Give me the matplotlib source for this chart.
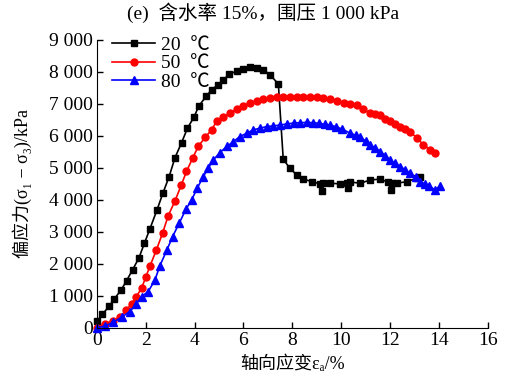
import matplotlib
matplotlib.use('Agg')
import matplotlib.pyplot as plt
from matplotlib.ticker import FuncFormatter

plt.rcParams['font.family'] = ['Liberation Serif', 'Noto Sans CJK SC', 'DejaVu Serif']
plt.rcParams['axes.unicode_minus'] = False

# 20 C
eps_20 = [0, 0.23, 0.5, 0.71, 1.0, 1.22, 1.46, 1.72, 1.95, 2.17, 2.46, 2.7, 2.96, 3.2, 3.47,
          3.71, 3.97, 4.18, 4.47, 4.7, 4.95, 5.18, 5.42, 5.72, 6.0, 6.27, 6.54, 6.82, 7.09,
          7.43, 7.63, 7.9, 8.18, 8.45, 8.8, 9.14, 9.2, 9.25, 9.55, 9.96, 10.25, 10.3, 10.35,
          10.78, 11.19, 11.6, 11.9, 12.05, 12.1, 12.28, 12.7, 13.1, 13.24]
q_20 = [200, 430, 670, 900, 1190, 1480, 1810, 2180, 2650, 3090, 3680, 4200, 4730, 5320, 5790,
        6240, 6580, 6940, 7230, 7440, 7590, 7750, 7930, 8020, 8080, 8140, 8110, 8060, 7910,
        7620, 5270, 4990, 4780, 4650, 4570, 4500, 4290, 4520, 4520, 4500, 4530, 4370, 4560,
        4520, 4620, 4650, 4560, 4300, 4520, 4520, 4570, 4680, 4700]

# 50 C
eps_50 = [0, 0.33, 0.67, 0.94, 1.21, 1.42, 1.62, 1.83, 2.0, 2.17, 2.44, 2.69, 2.92, 3.2, 3.45,
          3.67, 3.92, 4.15, 4.43, 4.7, 4.9, 5.18, 5.45, 5.72, 6.0, 6.27, 6.54, 6.82, 7.09,
          7.36, 7.64, 7.9, 8.18, 8.45, 8.72, 9.0, 9.27, 9.55, 9.82, 10.1, 10.37, 10.64, 10.9,
          11.19, 11.4, 11.6, 11.8, 12.0, 12.2, 12.42, 12.62, 12.83, 13.1, 13.37, 13.65, 13.85]
q_50 = [10, 125, 230, 330, 560, 750, 980, 1240, 1580, 1920, 2440, 2960, 3500, 3970, 4450,
        4890, 5300, 5670, 5950, 6190, 6450, 6580, 6710, 6830, 6940, 7040, 7090, 7160, 7180,
        7200, 7210, 7220, 7220, 7210, 7210, 7200, 7180, 7150, 7100, 7040, 7000, 6960, 6830,
        6710, 6680, 6640, 6540, 6450, 6370, 6290, 6210, 6130, 5930, 5720, 5560, 5480]

# 80 C
eps_80 = [0, 0.33, 0.67, 1.01, 1.35, 1.62, 1.83, 2.1, 2.38, 2.58, 2.86, 3.1, 3.37, 3.65, 3.88,
          4.12, 4.36, 4.56, 4.77, 5.04, 5.32, 5.59, 5.86, 6.13, 6.41, 6.68, 6.95, 7.23, 7.5,
          7.77, 8.05, 8.3, 8.6, 8.85, 9.1, 9.35, 9.55, 9.8, 10.05, 10.37, 10.6, 10.78, 11.0,
          11.19, 11.4, 11.6, 11.8, 12.0, 12.2, 12.42, 12.62, 12.83, 13.05, 13.24, 13.42, 13.58,
          13.85, 14.06]
q_80 = [0, 60, 170, 330, 510, 750, 980, 1130, 1500, 1940, 2420, 2850, 3270, 3710, 4000,
        4380, 4730, 4990, 5250, 5480, 5670, 5820, 5980, 6080, 6190, 6240, 6290, 6310, 6340,
        6370, 6400, 6410, 6420, 6410, 6390, 6360, 6340, 6280, 6210, 6080, 6020, 5960, 5840,
        5720, 5620, 5510, 5380, 5250, 5150, 5040, 4940, 4830, 4700, 4570, 4500, 4440,
        4310, 4440]

fig = plt.figure(figsize=(5.07, 3.76), dpi=100)
ax = fig.add_axes([0.191, 0.128, 0.771, 0.766])

ax.plot(eps_20, q_20, 'k-', marker='s', ms=4.5, lw=1.2, label='20  ℃', clip_on=False)
ax.plot(eps_50, q_50, 'r-', marker='o', ms=5, lw=1.2, label='50  ℃', clip_on=False)
ax.plot(eps_80, q_80, 'b-', marker='^', ms=5.5, lw=1.2, label='80  ℃', clip_on=False)

ax.set_xlim(0, 16)
ax.set_ylim(0, 9000)
ax.set_xticks(range(0, 17, 2))
ax.set_yticks(range(0, 9001, 1000))
ax.yaxis.set_major_formatter(FuncFormatter(lambda v, p: f'{int(v):,}'.replace(',', ' ')))
ax.spines['top'].set_visible(False)
ax.spines['right'].set_visible(False)
ax.tick_params(direction='in', length=4, width=1, labelsize=14, pad=3)

ax.set_xlabel('轴向应变ε\u2090/%', fontsize=13, labelpad=5)
ax.set_ylabel('偏应力(σ\u2081 − σ\u2083)/kPa', fontsize=13, labelpad=12)
fig.text(0.518, 0.965, '(e)  含水率 15%，围压 1 000 kPa', ha='center', va='center', fontsize=14)

ax.legend(loc='upper left', bbox_to_anchor=(0.02, 1.04), frameon=False, fontsize=14,
          handlelength=2.2, handletextpad=0.3, labelspacing=0.05, borderaxespad=0)

fig.savefig('out.png', dpi=100)
